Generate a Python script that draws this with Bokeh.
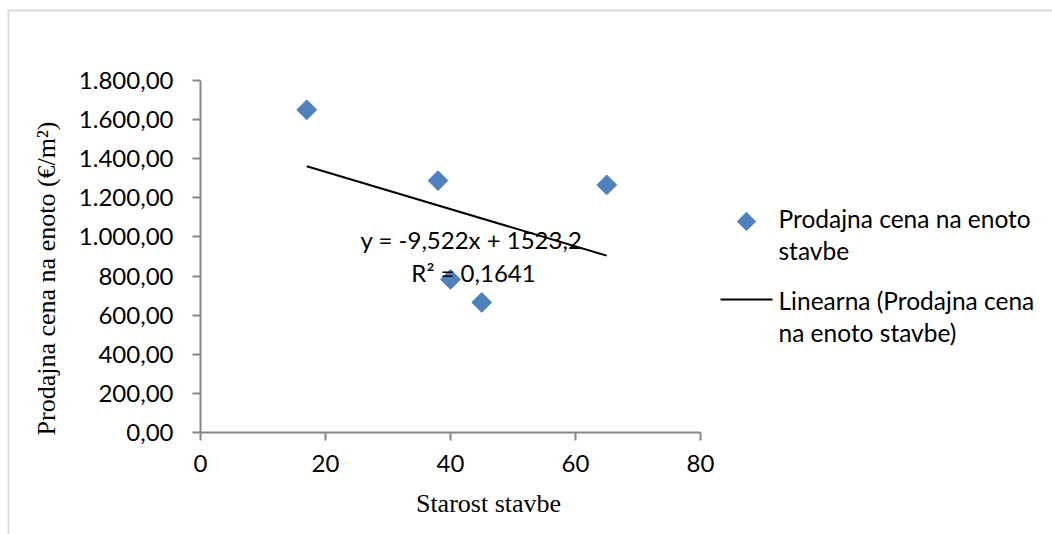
import math
from bokeh.plotting import figure
from bokeh.models import (Range1d, FixedTicker, Label, BoxAnnotation, LinearAxis)
from bokeh.embed import file_html
from bokeh.resources import INLINE

# ---- data ----
starost = [17, 38, 40, 45, 65]
cena = [1650, 1288, 783, 665, 1266]
trend_slope = -9.522
trend_intercept = 1523.2
eq_text = "y = -9,522x + 1523,2"
r2_text = "R² = 0,1641"
x_ticks = [0, 20, 40, 60, 80]
y_ticks = [0, 200, 400, 600, 800, 1000, 1200, 1400, 1600, 1800]
y_tick_labels = ["0,00", "200,00", "400,00", "600,00", "800,00", "1.000,00",
                 "1.200,00", "1.400,00", "1.600,00", "1.800,00"]
x_title = "Starost stavbe"
y_title = "Prodajna cena na enoto (€/m²)"
series_name_lines = ["Prodajna cena na enoto", "stavbe"]
trend_name_lines = ["Linearna (Prodajna cena", "na enoto stavbe)"]

# ---- layout (pixels) ----
W, H = 1052, 534
X0_PX, X1_PX = 200, 700      # x = 0 .. 80
Y0_PX, Y1_PX = 432, 80       # y = 0 .. 1800
XMIN, XMAX = 0, 80
YMIN, YMAX = 0, 1800
sx = (X1_PX - X0_PX) / (XMAX - XMIN)
sy = (Y0_PX - Y1_PX) / (YMAX - YMIN)


def px_x(px):
    return XMIN + (px - X0_PX) / sx


def px_y(py):
    return YMIN + (Y0_PX - py) / sy


GRAY = "#868686"
BLUE = "#4F81BD"
SANS = "Lato"
SERIF = "Liberation Serif"

p = figure(width=W, height=H, output_backend="svg", toolbar_location=None,
           x_range=Range1d(px_x(0), px_x(W)), y_range=Range1d(px_y(H), px_y(0)),
           x_axis_location=None, y_axis_location=None,
           min_border=0, min_border_left=0, min_border_right=0,
           min_border_top=0, min_border_bottom=0)
p.xgrid.visible = False
p.ygrid.visible = False
p.outline_line_color = None
p.background_fill_color = "white"
p.border_fill_color = "white"

xaxis = LinearAxis(fixed_location=0, bounds=(XMIN, XMAX),
                   ticker=FixedTicker(ticks=x_ticks))
yaxis = LinearAxis(fixed_location=0, bounds=(YMIN, YMAX),
                   ticker=FixedTicker(ticks=y_ticks))
yaxis.major_label_overrides = {t: l for t, l in zip(y_ticks, y_tick_labels)}
for ax in (xaxis, yaxis):
    ax.axis_line_color = GRAY
    ax.axis_line_width = 2
    ax.major_tick_line_color = GRAY
    ax.major_tick_line_width = 2
    ax.major_tick_in = 0
    ax.major_tick_out = 8
    ax.minor_tick_line_color = None
    ax.major_label_text_font = SANS
    ax.major_label_text_font_size = "24px"
    ax.major_label_text_color = "black"
yaxis.major_label_standoff = 19
xaxis.major_label_standoff = 14
p.add_layout(xaxis, "below")
p.add_layout(yaxis, "left")

# trend line
tx = [min(starost), max(starost)]
ty = [trend_slope * v + trend_intercept for v in tx]
ln = p.line(tx, ty, line_color="black", line_width=2)

# points
sc = p.scatter(starost, cena, marker="square", size=14, angle=math.pi / 4,
               fill_color=BLUE, line_color=BLUE)


def text(xp, yp, t, align="center", font=SANS, size="24px", baseline="alphabetic",
         angle=0):
    p.add_layout(Label(x=px_x(xp), y=px_y(yp), text=t, text_align=align,
                       text_baseline=baseline, text_font=font,
                       text_font_size=size, text_color="black", angle=angle))


# equation labels
text(471, 239, eq_text)
text(473, 272, r2_text)

# axis titles
text(488, 503, x_title, font=SERIF, size="26px")
text(46, 278, y_title, font=SERIF, size="26px", baseline="middle",
     angle=math.pi / 2)

# chart border (left and top edges visible)
p.add_layout(BoxAnnotation(left=px_x(8), right=px_x(W + 40), top=px_y(10),
                           bottom=px_y(H + 40), fill_alpha=0, line_color=GRAY,
                           line_width=2))

# legend (keys + text)
p.scatter([px_x(746)], [px_y(221)], marker="square", size=13, angle=math.pi / 4,
          fill_color=BLUE, line_color=BLUE)
p.line([px_x(720), px_x(772)], [px_y(299), px_y(299)], line_color="black",
       line_width=2)
for i, t in enumerate(series_name_lines):
    text(778, 218 + 32 * i, t, align="left", size="24.5px")
for i, t in enumerate(trend_name_lines):
    text(778, 300 + 32 * i, t, align="left", size="24.5px")

open("out.html", "w").write(file_html(p, INLINE))
